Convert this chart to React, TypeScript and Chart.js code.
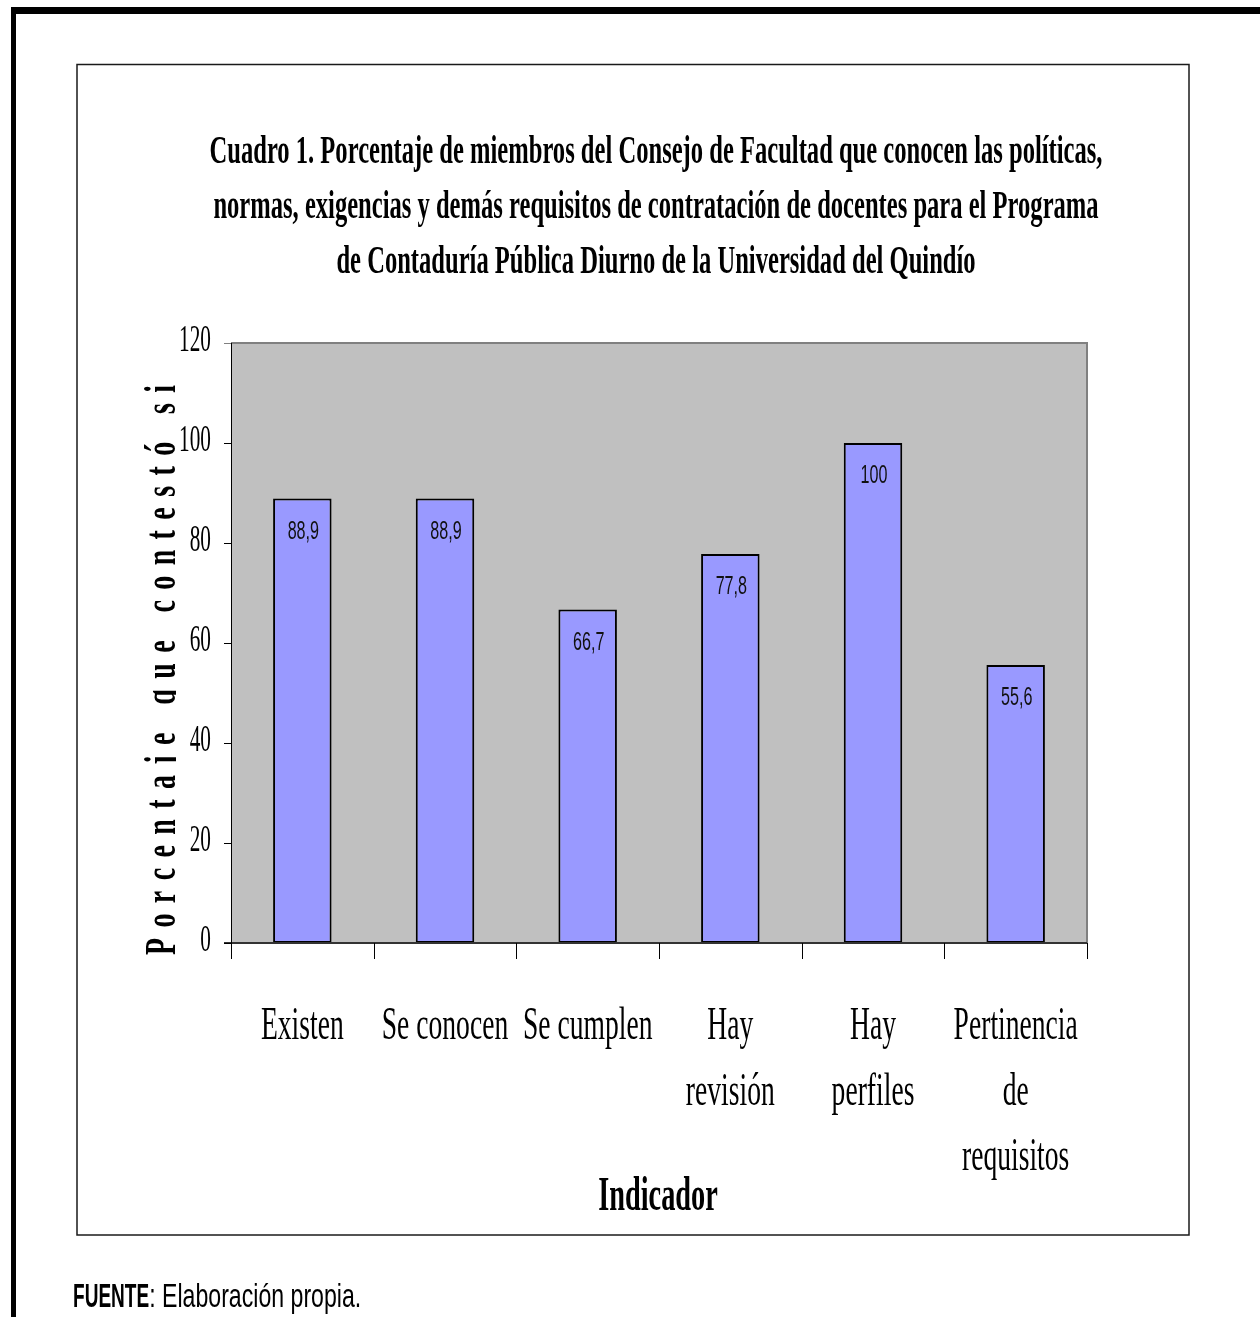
import React, { useEffect, useRef } from "react";
import { Chart, registerables } from "chart.js";

Chart.register(...registerables);

const titleLines = [
  "Cuadro 1. Porcentaje de miembros del Consejo de Facultad que conocen las políticas,",
  "normas, exigencias y demás requisitos de contratación de docentes para el Programa",
  "de Contaduría Pública Diurno de la Universidad del Quindío",
];
const categories: string[][] = [
  ["Existen"],
  ["Se conocen"],
  ["Se cumplen"],
  ["Hay", "revisión"],
  ["Hay", "perfiles"],
  ["Pertinencia", "de", "requisitos"],
];
const values = [88.9, 88.9, 66.7, 77.8, 100, 55.6];
const yTicks = [0, 20, 40, 60, 80, 100, 120];
const yTitle = "Porcentaje que contestó si";
const xTitle = "Indicador";
const footerBold = "FUENTE";
const footerRest = ": Elaboración propia.";

const SERIF = '"Liberation Serif", "Times New Roman", serif';
const SANS = '"Liberation Sans", Arial, sans-serif';

function sText(
  ctx: CanvasRenderingContext2D,
  text: string,
  x: number,
  y: number,
  font: string,
  sx: number,
  align: CanvasTextAlign,
  baseline: CanvasTextBaseline,
  color = "#000"
) {
  ctx.save();
  ctx.font = font;
  ctx.fillStyle = color;
  ctx.textAlign = align;
  ctx.textBaseline = baseline;
  ctx.translate(x, y);
  ctx.scale(sx, 1);
  ctx.fillText(text, 0, 0);
  ctx.restore();
}

const decorPlugin = {
  id: "decor",
  beforeDraw(chart: any) {
    const ctx: CanvasRenderingContext2D = chart.ctx;
    ctx.save();
    ctx.fillStyle = "#fff";
    ctx.fillRect(0, 0, chart.width, chart.height);
    // outer black frame
    ctx.fillStyle = "#000";
    ctx.fillRect(11, 7, chart.width - 11, 7);
    ctx.fillRect(11, 7, 5, chart.height - 7);
    // chart box
    ctx.strokeStyle = "#1a1a1a";
    ctx.lineWidth = 1.5;
    ctx.strokeRect(77, 64.5, 1112, 1170.5);
    ctx.restore();
  },
  beforeDatasetsDraw(chart: any) {
    const ctx: CanvasRenderingContext2D = chart.ctx;
    const a = chart.chartArea;
    ctx.save();
    ctx.fillStyle = "#C0C0C0";
    ctx.fillRect(a.left, a.top, a.right - a.left, a.bottom - a.top);
    ctx.strokeStyle = "#808080";
    ctx.lineWidth = 2;
    ctx.beginPath();
    ctx.moveTo(a.left, a.top);
    ctx.lineTo(a.right, a.top);
    ctx.lineTo(a.right, a.bottom);
    ctx.stroke();
    ctx.restore();
  },
  afterDatasetsDraw(chart: any) {
    const ctx: CanvasRenderingContext2D = chart.ctx;
    const a = chart.chartArea;
    const xs = chart.scales.x;
    const ys = chart.scales.y;
    ctx.save();

    // bottom axis line
    ctx.strokeStyle = "#333";
    ctx.lineWidth = 2;
    ctx.beginPath();
    ctx.moveTo(a.left - 7, a.bottom);
    ctx.lineTo(a.right, a.bottom);
    ctx.stroke();

    // left axis line
    ctx.strokeStyle = "#000";
    ctx.lineWidth = 1;
    ctx.beginPath();
    ctx.moveTo(Math.round(a.left) + 0.5, a.top);
    ctx.lineTo(Math.round(a.left) + 0.5, a.bottom + 16);
    ctx.stroke();

    // y ticks + labels
    yTicks.forEach((t) => {
      const py = ys.getPixelForValue(t);
      ctx.strokeStyle = t === 120 ? "#808080" : "#000";
      ctx.beginPath();
      ctx.moveTo(a.left - 7, Math.round(py) + 0.5);
      ctx.lineTo(a.left, Math.round(py) + 0.5);
      ctx.stroke();
      sText(ctx, String(t), a.left - 20, py - 2, `38px ${SERIF}`, 0.56, "right", "middle");
    });

    // x ticks at category boundaries + labels
    const c0 = xs.getPixelForValue(0);
    const half = (xs.getPixelForValue(1) - c0) / 2;
    ctx.strokeStyle = "#000";
    ctx.lineWidth = 1;
    for (let i = 0; i <= categories.length; i++) {
      const bx = Math.round(c0 - half + i * 2 * half) + 0.5;
      ctx.beginPath();
      ctx.moveTo(bx, a.bottom);
      ctx.lineTo(bx, a.bottom + 16);
      ctx.stroke();
    }
    categories.forEach((lines, i) => {
      const cx = xs.getPixelForValue(i);
      lines.forEach((ln, j) => {
        sText(ctx, ln, cx, 1039 + j * 65.5, `46px ${SERIF}`, 0.6, "center", "alphabetic");
      });
    });

    // data labels
    const meta = chart.getDatasetMeta(0);
    meta.data.forEach((bar: any, i: number) => {
      const lbl = String(values[i]).replace(".", ",");
      sText(ctx, lbl, bar.x + 1, bar.y + 33, `26px ${SANS}`, 0.62, "center", "middle", "#111");
    });

    // x title
    sText(ctx, xTitle, (a.left + a.right) / 2 - 1, 1210, `bold 48px ${SERIF}`, 0.59, "center", "alphabetic");

    // title
    ctx.font = `bold 40px ${SERIF}`;
    const w1 = ctx.measureText(titleLines[0]).width;
    const tsx = 893 / w1;
    titleLines.forEach((ln, i) => {
      sText(ctx, ln, 656, 163 + i * 55, `bold 40px ${SERIF}`, tsx, "center", "alphabetic");
    });

    // y title (rotated, letter-spaced, clipped descenders)
    ctx.save();
    ctx.beginPath();
    ctx.rect(0, 0, 176, chart.height);
    ctx.clip();
    ctx.font = `bold 45px ${SERIF}`;
    ctx.fillStyle = "#000";
    ctx.textAlign = "left";
    ctx.textBaseline = "alphabetic";
    const chars = Array.from(yTitle);
    const csx = 0.62;
    const widths = chars.map((c) => ctx.measureText(c).width * csx);
    const totalW = widths.reduce((s, w) => s + w, 0);
    const span = 570;
    const gap = (span - totalW) / (chars.length - 1);
    ctx.translate(175, 955);
    ctx.rotate(-Math.PI / 2);
    let pos = 0;
    chars.forEach((c, k) => {
      ctx.save();
      ctx.translate(pos, 0);
      ctx.scale(csx, 1);
      ctx.fillText(c, 0, 0);
      ctx.restore();
      pos += widths[k] + gap;
    });
    ctx.restore();

    // footer
    ctx.font = `bold 34px ${SANS}`;
    const fbsx = 0.56;
    const fbw = ctx.measureText(footerBold).width * fbsx;
    sText(ctx, footerBold, 73, 1307, `bold 34px ${SANS}`, fbsx, "left", "alphabetic");
    sText(ctx, footerRest, 73 + fbw, 1307, `34px ${SANS}`, 0.68, "left", "alphabetic");

    ctx.restore();
  },
};

export default function App() {
  const canvasRef = useRef<HTMLCanvasElement | null>(null);

  useEffect(() => {
    if (!canvasRef.current) return;
    const chart = new Chart(canvasRef.current, {
      type: "bar",
      data: {
        labels: categories.map((c) => c.join(" ")),
        datasets: [
          {
            data: values,
            backgroundColor: "#9999FF",
            borderColor: "#000",
            borderWidth: 2,
            borderSkipped: false,
            barPercentage: 0.41,
            categoryPercentage: 1,
          },
        ],
      },
      options: {
        responsive: false,
        animation: false,
        devicePixelRatio: 1,
        layout: { padding: { left: 231, top: 343, right: 173, bottom: 374 } },
        scales: {
          x: { display: false },
          y: { display: false, min: 0, max: 120 },
        },
        plugins: {
          legend: { display: false },
          tooltip: { enabled: false },
          title: { display: false },
        },
      },
      plugins: [decorPlugin],
    } as any);
    return () => chart.destroy();
  }, []);

  return (
    <div style={{ position: "absolute", left: 0, top: 0, width: 1260, height: 1317 }}>
      <canvas ref={canvasRef} width={1260} height={1317} style={{ display: "block" }} />
    </div>
  );
}
